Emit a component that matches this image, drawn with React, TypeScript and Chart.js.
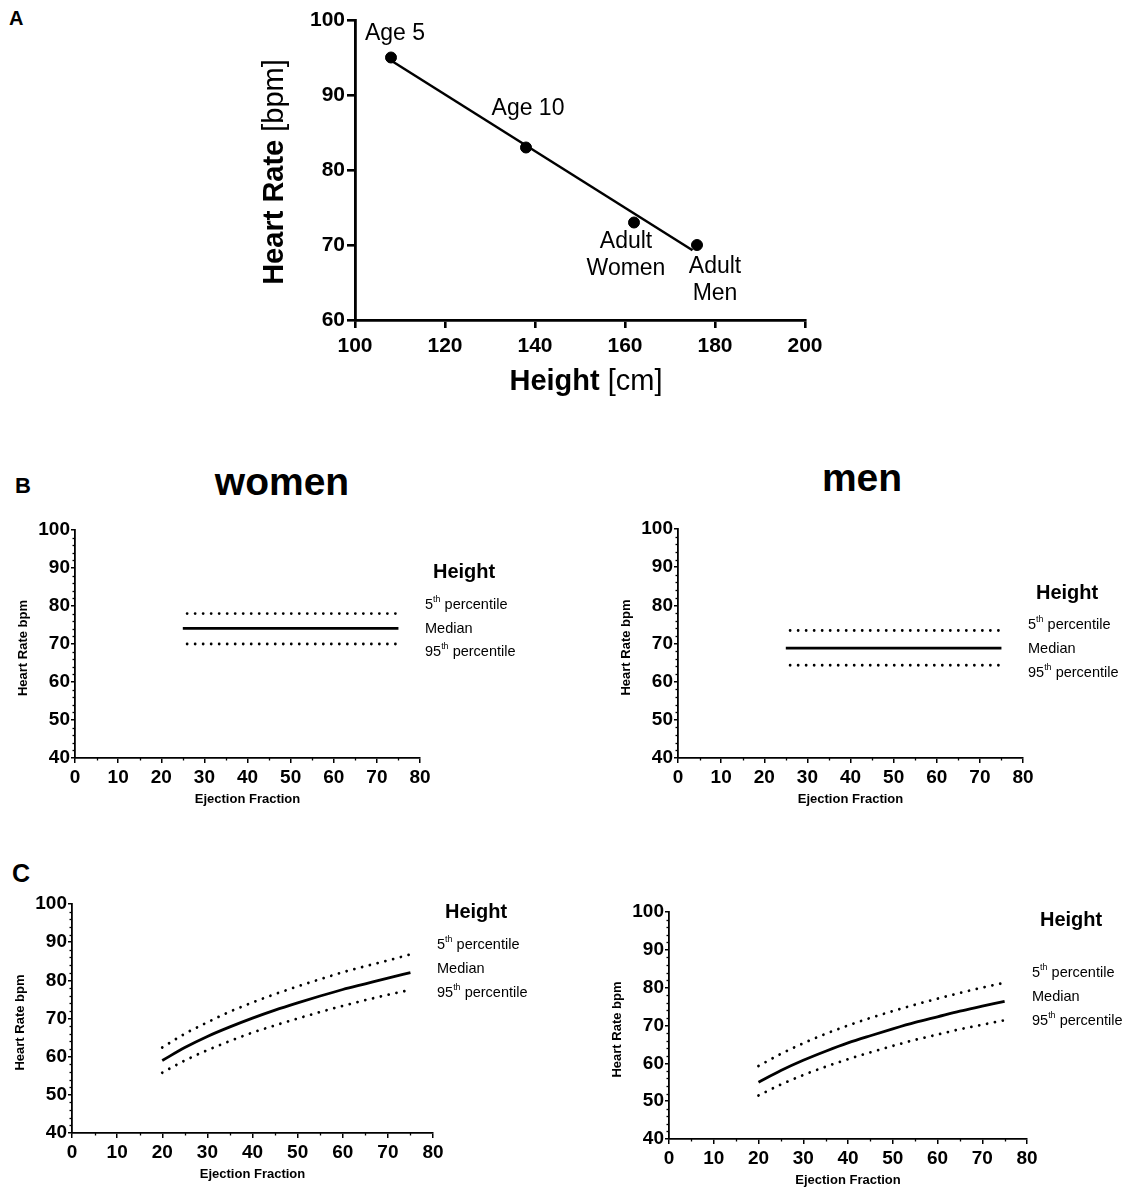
import React, { useEffect, useRef } from 'react';
import { Chart, registerables } from 'chart.js';

Chart.register(...registerables);

// ---------- Panel A data ----------
const heightCm = [108, 138, 162, 176];
const heartRateA = [95, 83, 73, 70];
const pointLabels = ['Age 5', 'Age 10', 'Adult\nWomen', 'Adult\nMen'];
const fitHeight = [108, 175];
const fitRate = [94.6, 69.3];
const xTicksA = [100, 120, 140, 160, 180, 200];
const yTicksA = [60, 70, 80, 90, 100];

// ---------- Panel B data ----------
const efBMedian = [25, 75];
const efBBand = [26, 75];
const womenB5th = [78, 78];
const womenBMedian = [74.1, 74.1];
const womenB95th = [70, 70];
const menB5th = [73.4, 73.4];
const menBMedian = [68.8, 68.8];
const menB95th = [64.3, 64.3];

// ---------- Panel C data ----------
const efC = [20, 25, 30, 35, 40, 45, 50, 55, 60, 65, 70, 75];
const womenC5th = [62.4, 66.0, 69.0, 71.8, 74.2, 76.4, 78.4, 80.3, 82.1, 83.7, 85.2, 86.8];
const womenCMedian = [59.0, 62.4, 65.3, 67.8, 70.1, 72.2, 74.1, 75.9, 77.6, 79.1, 80.6, 82.0];
const womenC95th = [55.8, 59.0, 61.7, 64.1, 66.3, 68.2, 70.0, 71.7, 73.3, 74.8, 76.2, 77.5];
const menC5th = [59.3, 62.5, 65.3, 67.8, 70.0, 72.0, 73.8, 75.5, 77.1, 78.6, 80.0, 81.3];
const menCMedian = [55.0, 58.1, 60.8, 63.2, 65.4, 67.3, 69.1, 70.8, 72.3, 73.8, 75.1, 76.4];
const menC95th = [51.5, 54.4, 56.9, 59.1, 61.1, 62.9, 64.6, 66.2, 67.6, 69.0, 70.2, 71.4];

const xTicksEF = [0, 10, 20, 30, 40, 50, 60, 70, 80];
const yTicksHR = [40, 50, 60, 70, 80, 90, 100];
const legendTitle = 'Height';
const legendEntries = [
  [{ t: '5' }, { t: 'th', sup: true }, { t: ' percentile' }],
  [{ t: 'Median' }],
  [{ t: '95' }, { t: 'th', sup: true }, { t: ' percentile' }],
];

// ---------- helpers ----------
type Run = { t: string; bold?: boolean; sup?: boolean };
const FONT = '"Liberation Sans", Arial, Helvetica, sans-serif';
const fontStr = (size: number, bold?: boolean) => `${bold ? 'bold ' : ''}${size}px ${FONT}`;

function drawRuns(ctx: CanvasRenderingContext2D, runs: Run[], x: number, y: number, size: number, align: 'left' | 'center') {
  ctx.save();
  ctx.textBaseline = 'middle';
  ctx.textAlign = 'left';
  ctx.fillStyle = '#000';
  const widths = runs.map((r) => {
    ctx.font = fontStr(r.sup ? size * 0.62 : size, r.bold);
    return ctx.measureText(r.t).width;
  });
  const total = widths.reduce((a, b) => a + b, 0);
  let cx = align === 'center' ? x - total / 2 : x;
  runs.forEach((r, i) => {
    ctx.font = fontStr(r.sup ? size * 0.62 : size, r.bold);
    ctx.fillText(r.t, cx, r.sup ? y - size * 0.36 : y);
    cx += widths[i];
  });
  ctx.restore();
}

function drawRotated(ctx: CanvasRenderingContext2D, runs: Run[], x: number, y: number, size: number) {
  ctx.save();
  ctx.translate(x, y);
  ctx.rotate(-Math.PI / 2);
  drawRuns(ctx, runs, 0, 0, size, 'center');
  ctx.restore();
}

type Box = { x: number; y: number; w: number; h: number };
type Area = { l: number; t: number; r: number; b: number };

function fixAxis(size: number, horizontal: boolean) {
  return (scale: any) => {
    if (horizontal) scale.height = size;
    else scale.width = size;
    scale.paddingLeft = 0;
    scale.paddingRight = 0;
    scale.paddingTop = 0;
    scale.paddingBottom = 0;
  };
}

function useChart(build: (canvas: HTMLCanvasElement) => Chart) {
  const ref = useRef<HTMLCanvasElement | null>(null);
  useEffect(() => {
    if (!ref.current) return;
    const chart = build(ref.current);
    return () => chart.destroy();
  }, []);
  return ref;
}

// ---------- Panel A ----------
function PanelA({ box, area }: { box: Box; area: Area }) {
  const ref = useChart((canvas) => {
    const labelPlugin = {
      id: 'decorA',
      afterDraw(chart: any) {
        const ctx = chart.ctx as CanvasRenderingContext2D;
        const xs = chart.scales.x;
        const ys = chart.scales.y;
        const ca = chart.chartArea;
        const offsets = [
          [4, -24],
          [2, -39],
          [-8, 19],
          [18, 22],
        ];
        heightCm.forEach((h, i) => {
          const px = xs.getPixelForValue(h) + offsets[i][0];
          const py = ys.getPixelForValue(heartRateA[i]) + offsets[i][1];
          pointLabels[i].split('\n').forEach((line, j) => {
            drawRuns(ctx, [{ t: line }], px, py + j * 27, 23, 'center');
          });
        });
        drawRotated(ctx, [{ t: 'Heart Rate', bold: true }, { t: ' [bpm]' }], ca.left - 80, (ca.top + ca.bottom) / 2 + 2, 29);
        drawRuns(ctx, [{ t: 'Height', bold: true }, { t: ' [cm]' }], (ca.left + ca.right) / 2 + 6, ca.bottom + 62, 29, 'center');
      },
    };
    return new Chart(canvas, {
      type: 'scatter',
      data: {
        datasets: [
          {
            type: 'line',
            data: fitHeight.map((x, i) => ({ x, y: fitRate[i] })),
            borderColor: '#000',
            borderWidth: 2.5,
            pointRadius: 0,
          } as any,
          {
            data: heightCm.map((x, i) => ({ x, y: heartRateA[i] })),
            pointRadius: 5.5,
            backgroundColor: '#000',
            borderColor: '#000',
          },
        ],
      },
      options: {
        animation: false,
        responsive: false,
        events: [],
        layout: { padding: { left: 0, top: area.t - box.y, right: box.x + box.w - area.r, bottom: 0 } },
        plugins: { legend: { display: false }, tooltip: { enabled: false } },
        scales: {
          x: {
            type: 'linear',
            min: 100,
            max: 200,
            afterBuildTicks: (s: any) => { s.ticks = xTicksA.map((v) => ({ value: v })); },
            afterFit: fixAxis(box.y + box.h - area.b, true),
            grid: { display: true, drawOnChartArea: false, drawTicks: true, tickLength: 8, color: '#000', lineWidth: 2.6 },
            border: { display: true, color: '#000', width: 2.8 },
            ticks: { color: '#000', padding: 6, font: { family: FONT, size: 21, weight: 'bold' }, maxRotation: 0 },
          },
          y: {
            type: 'linear',
            min: 60,
            max: 100,
            afterBuildTicks: (s: any) => { s.ticks = yTicksA.map((v) => ({ value: v })); },
            afterFit: fixAxis(area.l - box.x, false),
            grid: { display: true, drawOnChartArea: false, drawTicks: true, tickLength: 8, color: '#000', lineWidth: 2.6 },
            border: { display: true, color: '#000', width: 2.8 },
            ticks: { color: '#000', padding: 2, font: { family: FONT, size: 21, weight: 'bold' } },
          },
        },
      } as any,
      plugins: [labelPlugin],
    });
  });
  return <canvas ref={ref} width={box.w} height={box.h} style={{ position: 'absolute', left: box.x, top: box.y, width: box.w, height: box.h }} />;
}

// ---------- Panels B / C ----------
type Series = { x: number[]; y: number[]; dotted: boolean };
type LegendPos = { titleDx: number; titleDy: number; entryDx: number; entryDy: number[] };

function PanelEF({ box, area, series, legend }: { box: Box; area: Area; series: Series[]; legend: LegendPos }) {
  const ref = useChart((canvas) => {
    const decor = {
      id: 'decorEF',
      afterDraw(chart: any) {
        const ctx = chart.ctx as CanvasRenderingContext2D;
        const xs = chart.scales.x;
        const ys = chart.scales.y;
        const ca = chart.chartArea;
        ctx.save();
        ctx.strokeStyle = '#000';
        ctx.lineWidth = 1.3;
        // minor ticks on y (every 2) and x (every 5)
        for (let v = ys.min; v <= ys.max; v += 2) {
          if (v % 10 === 0) continue;
          const py = Math.round(ys.getPixelForValue(v)) + 0.5;
          ctx.beginPath();
          ctx.moveTo(ca.left, py);
          ctx.lineTo(ca.left - 2.5, py);
          ctx.stroke();
        }
        for (let v = xs.min + 5; v < xs.max; v += 10) {
          const px = Math.round(xs.getPixelForValue(v)) + 0.5;
          ctx.beginPath();
          ctx.moveTo(px, ca.bottom);
          ctx.lineTo(px, ca.bottom + 2.5);
          ctx.stroke();
        }
        ctx.restore();
        drawRotated(ctx, [{ t: 'Heart Rate bpm', bold: true }], ca.left - 52, (ca.top + ca.bottom) / 2 + 4, 13);
        drawRuns(ctx, [{ t: 'Ejection Fraction', bold: true }], (ca.left + ca.right) / 2, ca.bottom + 41, 13, 'center');
        drawRuns(ctx, [{ t: legendTitle, bold: true }], ca.right + legend.titleDx, ca.top + legend.titleDy, 20, 'left');
        legendEntries.forEach((runs, i) => {
          drawRuns(ctx, runs as Run[], ca.right + legend.entryDx, ca.top + legend.entryDy[i], 14.5, 'left');
        });
      },
    };
    return new Chart(canvas, {
      type: 'line',
      data: {
        datasets: series.map((s) => ({
          data: s.x.map((x, i) => ({ x, y: s.y[i] })),
          borderColor: '#000',
          borderWidth: s.dotted ? 2.8 : 2.8,
          borderDash: s.dotted ? [0.01, 8] : [],
          borderCapStyle: s.dotted ? 'round' : 'butt',
          pointRadius: 0,
          tension: 0.4,
          cubicInterpolationMode: 'monotone',
          fill: false,
        })),
      },
      options: {
        animation: false,
        responsive: false,
        events: [],
        layout: { padding: { left: 0, top: area.t - box.y, right: box.x + box.w - area.r, bottom: 0 } },
        plugins: { legend: { display: false }, tooltip: { enabled: false } },
        scales: {
          x: {
            type: 'linear',
            min: 0,
            max: 80,
            afterBuildTicks: (s: any) => { s.ticks = xTicksEF.map((v) => ({ value: v })); },
            afterFit: fixAxis(box.y + box.h - area.b, true),
            grid: { display: true, drawOnChartArea: false, drawTicks: true, tickLength: 5, color: '#000', lineWidth: 1.5 },
            border: { display: true, color: '#000', width: 1.8 },
            ticks: { color: '#000', padding: 3, font: { family: FONT, size: 19, weight: 'bold' }, maxRotation: 0 },
          },
          y: {
            type: 'linear',
            min: 40,
            max: 100,
            afterBuildTicks: (s: any) => { s.ticks = yTicksHR.map((v) => ({ value: v })); },
            afterFit: fixAxis(area.l - box.x, false),
            grid: { display: true, drawOnChartArea: false, drawTicks: true, tickLength: 4, color: '#000', lineWidth: 1.5 },
            border: { display: true, color: '#000', width: 1.8 },
            ticks: { color: '#000', padding: 1, font: { family: FONT, size: 19, weight: 'bold' } },
          },
        },
      } as any,
      plugins: [decor],
    });
  });
  return <canvas ref={ref} width={box.w} height={box.h} style={{ position: 'absolute', left: box.x, top: box.y, width: box.w, height: box.h }} />;
}

const letterStyle = (left: number, top: number, size: number): React.CSSProperties => ({
  position: 'absolute',
  left,
  top,
  fontFamily: FONT,
  fontWeight: 'bold',
  fontSize: size,
  lineHeight: 1,
  color: '#000',
  whiteSpace: 'nowrap',
});

export default function App() {
  return (
    <div style={{ position: 'absolute', left: 0, top: 0, width: 1132, height: 1187, background: '#fff', overflow: 'hidden' }}>
      <div style={letterStyle(9, 8, 20)}>A</div>
      <div style={letterStyle(15, 475, 22)}>B</div>
      <div style={letterStyle(12, 861, 25)}>C</div>
      <div style={{ ...letterStyle(182, 462, 39), width: 200, textAlign: 'center' }}>women</div>
      <div style={{ ...letterStyle(762, 458, 39), width: 200, textAlign: 'center' }}>men</div>

      <PanelA box={{ x: 200, y: 0, w: 640, h: 410 }} area={{ l: 355, t: 20, r: 805, b: 320 }} />

      <PanelEF
        box={{ x: 0, y: 500, w: 580, h: 330 }}
        area={{ l: 75, t: 530, r: 420, b: 758 }}
        series={[
          { x: efBBand, y: womenB5th, dotted: true },
          { x: efBMedian, y: womenBMedian, dotted: false },
          { x: efBBand, y: womenB95th, dotted: true },
        ]}
        legend={{ titleDx: 13, titleDy: 42, entryDx: 5, entryDy: [75, 99, 122] }}
      />
      <PanelEF
        box={{ x: 590, y: 500, w: 542, h: 330 }}
        area={{ l: 678, t: 529, r: 1023, b: 758 }}
        series={[
          { x: efBBand, y: menB5th, dotted: true },
          { x: efBMedian, y: menBMedian, dotted: false },
          { x: efBBand, y: menB95th, dotted: true },
        ]}
        legend={{ titleDx: 13, titleDy: 64, entryDx: 5, entryDy: [96, 120, 144] }}
      />
      <PanelEF
        box={{ x: 0, y: 880, w: 590, h: 307 }}
        area={{ l: 72, t: 904, r: 433, b: 1133 }}
        series={[
          { x: efC, y: womenC5th, dotted: true },
          { x: efC, y: womenCMedian, dotted: false },
          { x: efC, y: womenC95th, dotted: true },
        ]}
        legend={{ titleDx: 12, titleDy: 8, entryDx: 4, entryDy: [41, 65, 89] }}
      />
      <PanelEF
        box={{ x: 590, y: 880, w: 542, h: 307 }}
        area={{ l: 669, t: 912, r: 1027, b: 1139 }}
        series={[
          { x: efC, y: menC5th, dotted: true },
          { x: efC, y: menCMedian, dotted: false },
          { x: efC, y: menC95th, dotted: true },
        ]}
        legend={{ titleDx: 13, titleDy: 8, entryDx: 5, entryDy: [61, 85, 109] }}
      />
    </div>
  );
}
